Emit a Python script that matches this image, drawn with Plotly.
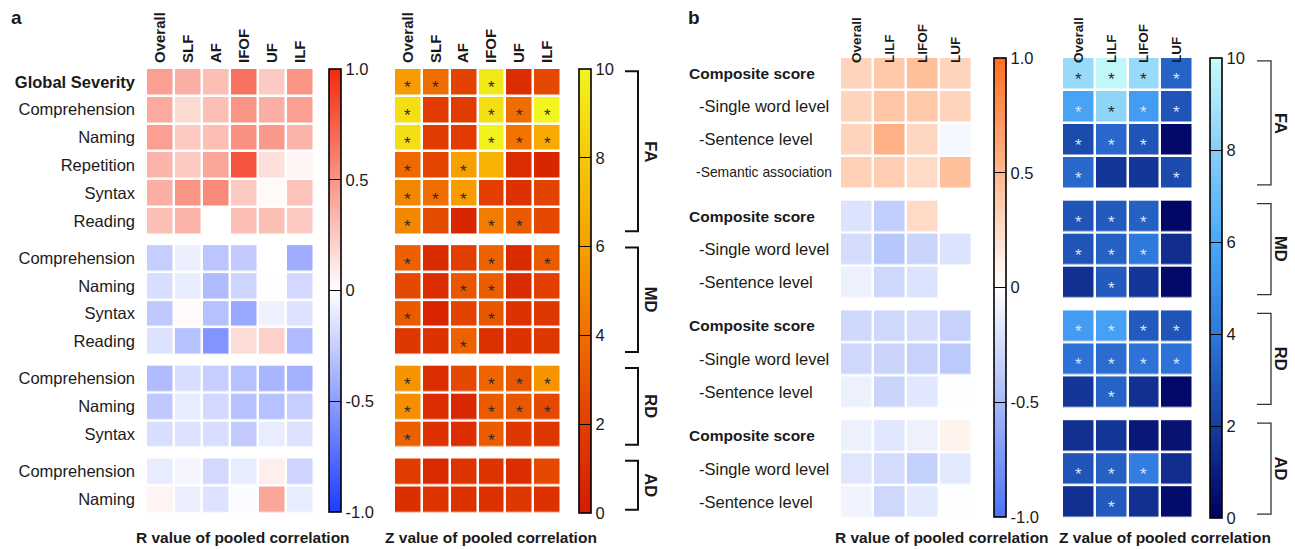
import plotly.graph_objects as go

W, H = 1295, 549
FONT = "Liberation Sans, Arial, Helvetica, sans-serif"
TXT = "#1a1a1a"

# ---------------- Panel a data ----------------
a_cols = ["Overall", "SLF", "AF", "IFOF", "UF", "ILF"]
a_groups = ["FA", "MD", "RD", "AD"]
a_rows = {
    "FA": ["<b>Global Severity</b>", "Comprehension", "Naming", "Repetition", "Syntax", "Reading"],
    "MD": ["Comprehension", "Naming", "Syntax", "Reading"],
    "RD": ["Comprehension", "Naming", "Syntax"],
    "AD": ["Comprehension", "Naming"],
}
a_r = {
    "FA": [[0.45, 0.38, 0.30, 0.66, 0.25, 0.50],
           [0.40, 0.18, 0.30, 0.50, 0.38, 0.45],
           [0.45, 0.25, 0.30, 0.52, 0.48, 0.35],
           [0.35, 0.25, 0.42, 0.80, 0.15, 0.05],
           [0.38, 0.50, 0.55, 0.25, 0.03, 0.28],
           [0.30, 0.35, 0.00, 0.30, 0.30, 0.25]],
    "MD": [[-0.25, -0.08, -0.30, -0.27, 0.00, -0.42],
           [-0.17, -0.10, -0.35, -0.22, 0.01, -0.20],
           [-0.28, 0.02, -0.32, -0.45, -0.07, -0.15],
           [-0.15, -0.32, -0.55, 0.17, 0.22, -0.35]],
    "RD": [[-0.35, -0.17, -0.25, -0.32, -0.38, -0.40],
           [-0.28, -0.10, -0.20, -0.32, -0.32, -0.25],
           [-0.17, -0.15, -0.17, -0.27, -0.10, -0.15]],
    "AD": [[-0.10, -0.05, -0.20, -0.10, 0.08, -0.22],
           [0.05, -0.08, -0.15, -0.02, 0.42, -0.10]],
}
a_z = {
    "FA": [[5.8, 4.0, 2.2, 9.4, 1.0, 2.4],
           [9.0, 1.8, 1.8, 9.0, 4.0, 10.0],
           [9.0, 1.8, 1.8, 9.8, 4.2, 6.5],
           [3.8, 2.3, 6.0, 7.0, 1.0, 0.6],
           [5.0, 4.0, 5.8, 2.0, 1.3, 2.2],
           [5.0, 2.6, 0.6, 4.5, 3.2, 2.4]],
    "MD": [[3.4, 0.8, 2.0, 3.5, 0.8, 3.2],
           [2.4, 1.0, 3.0, 3.3, 0.8, 2.0],
           [3.2, 0.5, 2.2, 3.0, 1.3, 1.6],
           [1.6, 1.3, 3.5, 1.2, 1.3, 1.6]],
    "RD": [[5.5, 1.0, 2.4, 3.6, 3.0, 5.5],
           [5.3, 1.0, 0.7, 3.2, 3.0, 2.4],
           [3.4, 1.3, 1.0, 3.3, 1.6, 1.6]],
    "AD": [[1.8, 0.8, 1.4, 1.4, 1.0, 2.4],
           [1.1, 1.4, 1.3, 1.3, 1.6, 1.3]],
}
a_sig = {
    "FA": [[1, 1, 0, 1, 0, 0],
           [1, 0, 0, 1, 1, 1],
           [1, 0, 0, 1, 1, 1],
           [1, 0, 1, 0, 0, 0],
           [1, 1, 1, 0, 0, 0],
           [1, 0, 0, 1, 1, 0]],
    "MD": [[1, 0, 0, 1, 0, 1],
           [0, 0, 1, 1, 0, 0],
           [1, 0, 0, 1, 0, 0],
           [0, 0, 1, 0, 0, 0]],
    "RD": [[1, 0, 0, 1, 1, 1],
           [1, 0, 0, 1, 1, 1],
           [1, 0, 0, 1, 0, 0]],
    "AD": [[0, 0, 0, 0, 0, 0],
           [0, 0, 0, 0, 0, 0]],
}

# ---------------- Panel b data ----------------
b_cols = ["Overall", "LILF", "LIFOF", "LUF"]
b_groups = ["FA", "MD", "RD", "AD"]
b_rows = {
    "FA": ["Composite score", "-Single word level", "-Sentence level", "-Semantic association"],
    "MD": ["Composite score", "-Single word level", "-Sentence level"],
    "RD": ["Composite score", "-Single word level", "-Sentence level"],
    "AD": ["Composite score", "-Single word level", "-Sentence level"],
}
b_r = {
    "FA": [[0.30, 0.38, 0.45, 0.30],
           [0.30, 0.40, 0.38, 0.30],
           [0.30, 0.55, 0.28, -0.05],
           [0.33, 0.35, 0.25, 0.45]],
    "MD": [[-0.20, -0.35, 0.25, 0.00],
           [-0.25, -0.40, -0.30, -0.20],
           [-0.10, -0.28, -0.20, 0.00]],
    "RD": [[-0.27, -0.28, -0.25, -0.32],
           [-0.28, -0.30, -0.32, -0.38],
           [-0.10, -0.30, -0.17, -0.01]],
    "AD": [[-0.10, -0.18, -0.10, 0.08],
           [-0.18, -0.25, -0.33, -0.15],
           [-0.08, -0.28, -0.15, -0.01]],
}
b_z = {
    "FA": [[8.5, 9.8, 8.5, 3.3],
           [5.8, 8.2, 5.5, 2.8],
           [2.5, 3.5, 2.8, 0.3],
           [3.5, 1.8, 1.8, 2.5]],
    "MD": [[2.8, 3.0, 3.2, 0.2],
           [2.8, 3.2, 4.0, 1.5],
           [1.6, 3.0, 1.8, 0.3]],
    "RD": [[5.5, 5.7, 3.0, 2.8],
           [3.8, 3.6, 3.8, 3.8],
           [1.8, 3.3, 1.6, 0.3]],
    "AD": [[1.6, 1.8, 0.8, 0.6],
           [2.8, 3.2, 4.2, 1.5],
           [1.6, 3.0, 1.6, 0.4]],
}
b_sig = {
    "FA": [[1, 1, 1, 1],
           [1, 1, 1, 1],
           [1, 1, 1, 0],
           [1, 0, 0, 1]],
    "MD": [[1, 1, 1, 0],
           [1, 1, 1, 0],
           [0, 1, 0, 0]],
    "RD": [[1, 1, 1, 1],
           [1, 1, 1, 1],
           [0, 1, 0, 0]],
    "AD": [[0, 0, 0, 0],
           [1, 1, 1, 0],
           [0, 1, 0, 0]],
}

z_ticks = [0, 2, 4, 6, 8, 10]
r_ticks = [-1, -0.5, 0, 0.5, 1]
r_ticktext = ["-1.0", "-0.5", "0", "0.5", "1.0"]


def group_positions(groups, rows, gap):
    pos, cur = {}, 0.0
    for g in groups:
        n = len(rows[g])
        pos[g] = [cur + i for i in range(n)]
        cur += n + gap
    return pos


a_pos = group_positions(a_groups, a_rows, 0.34)
b_pos = group_positions(b_groups, b_rows, 0.33)


def px(x):
    return x / W


def py(y):
    return 1 - y / H


def cbar(x0, y0, y1, tickvals, ticktext):
    return dict(x=px(x0), xanchor="left", xpad=0, y=py(y0), yanchor="top", ypad=0,
                len=(y1 - y0) / H, lenmode="fraction", thickness=12, thicknessmode="pixels",
                outlinewidth=1.6, outlinecolor="black", ticks="inside", ticklen=12,
                tickwidth=1.4, tickcolor="black", tickvals=tickvals, ticktext=ticktext,
                tickfont=dict(family=FONT, size=16.5, color=TXT), bgcolor="rgba(0,0,0,0)",
                borderwidth=0)


fig = go.Figure()

panels = [
    ("x", "y", "coloraxis", a_groups, a_pos, a_r, a_cols),
    ("x2", "y2", "coloraxis2", a_groups, a_pos, a_z, a_cols),
    ("x3", "y3", "coloraxis3", b_groups, b_pos, b_r, b_cols),
    ("x4", "y4", "coloraxis4", b_groups, b_pos, b_z, b_cols),
]
for xa, ya, ca, groups, pos, data, cols in panels:
    for g in groups:
        fig.add_trace(go.Heatmap(
            z=data[g], x=list(range(len(cols))), y=pos[g], xaxis=xa, yaxis=ya,
            coloraxis=ca, xgap=2.5, ygap=2.5, hoverinfo="skip"))

annotations = []
# significance stars
for g in a_groups:
    for i, row in enumerate(a_sig[g]):
        for j, s in enumerate(row):
            if s:
                annotations.append(dict(x=j, y=a_pos[g][i], xref="x2", yref="y2", text="*",
                                        showarrow=False, yshift=-6, xanchor="center",
                                        font=dict(family=FONT, size=17, color="#2a2a2a")))
for g in b_groups:
    for i, row in enumerate(b_sig[g]):
        for j, s in enumerate(row):
            if s:
                col = "#1e2a30" if b_z[g][i][j] >= 7.5 else "#d6e6ff"
                annotations.append(dict(x=j, y=b_pos[g][i], xref="x4", yref="y4", text="*",
                                        showarrow=False, yshift=-6, xanchor="center",
                                        font=dict(family=FONT, size=17, color=col)))

# panel b row labels (left aligned)
for g in b_groups:
    for i, lab in enumerate(b_rows[g]):
        if lab.startswith("Composite"):
            txt, x0, size = "<b>" + lab + "</b>", 687, 15.5
        elif len(lab) > 18:
            txt, x0, size = lab, 694, 13.9
        else:
            txt, x0, size = lab, 697, 16.5
        annotations.append(dict(x=px(x0), y=b_pos[g][i], xref="paper", yref="y3", text=txt,
                                xanchor="left", yanchor="middle", showarrow=False,
                                font=dict(family=FONT, size=size, color=TXT)))

shapes = []
# brackets
for groups, pos, yref, xa0, xa1, xlab, lw, lc in [
    (a_groups, a_pos, "y2", 625, 638, 651, 2.0, "#111"),
    (b_groups, b_pos, "y4", 1257, 1271, 1281, 1.3, "#333"),
]:
    for g in groups:
        top = pos[g][0] - 0.38
        bot = pos[g][-1] + 0.38
        shapes.append(dict(type="path", xref="paper", yref=yref,
                           path=f"M {px(xa0)},{top} L {px(xa1)},{top} L {px(xa1)},{bot} L {px(xa0)},{bot}",
                           line=dict(color=lc, width=lw)))
        annotations.append(dict(x=px(xlab), y=(pos[g][0] + pos[g][-1]) / 2, xref="paper", yref=yref,
                                text=f"<b>{g}</b>", textangle=90, showarrow=False,
                                xanchor="center", yanchor="middle",
                                font=dict(family=FONT, size=16.5, color=TXT)))

# axis titles and panel letters
for xc, txt in [(243, "R value of pooled correlation"), (491, "Z value of pooled correlation"),
                (942, "R value of pooled correlation"), (1165, "Z value of pooled correlation")]:
    annotations.append(dict(x=px(xc), y=py(537), xref="paper", yref="paper", text=f"<b>{txt}</b>",
                            showarrow=False, xanchor="center", yanchor="middle",
                            font=dict(family=FONT, size=15.5, color=TXT)))
for xc, txt in [(16, "a"), (694, "b")]:
    annotations.append(dict(x=px(xc), y=py(17), xref="paper", yref="paper", text=f"<b>{txt}</b>",
                            showarrow=False, xanchor="center", yanchor="middle",
                            font=dict(family=FONT, size=19, color=TXT)))


def xaxis(x0, x1, cols, size):
    return dict(domain=[px(x0), px(x1)], range=[-0.5, len(cols) - 0.5], side="top",
                tickvals=list(range(len(cols))), ticktext=[f"<b>{c}</b>" for c in cols],
                tickangle=-90, tickfont=dict(family=FONT, size=size, color=TXT),
                showgrid=False, zeroline=False, showline=False, ticks="", ticklabelstandoff=4)


a_all_pos = [p for g in a_groups for p in a_pos[g]]
a_all_lab = [l for g in a_groups for l in a_rows[g]]
b_max = b_pos[b_groups[-1]][-1]
a_max = a_pos[a_groups[-1]][-1]


def yaxis(y0, y1, rmax, **kw):
    d = dict(domain=[py(y1), py(y0)], range=[rmax + 0.5, -0.5], showgrid=False, zeroline=False,
             showline=False, ticks="", showticklabels=False)
    d.update(kw)
    return d


fig.update_layout(
    width=W, height=H, margin=dict(l=0, r=0, t=0, b=0, autoexpand=False),
    paper_bgcolor="white", plot_bgcolor="white", showlegend=False,
    font=dict(family=FONT, color=TXT),
    xaxis=xaxis(146, 314, a_cols, 15),
    xaxis2=xaxis(394, 561, a_cols, 15),
    xaxis3=xaxis(840, 972, b_cols, 13.5),
    xaxis4=xaxis(1062, 1193, b_cols, 13.5),
    yaxis=yaxis(68, 513, a_max, anchor="x", showticklabels=True, tickvals=a_all_pos,
                ticktext=a_all_lab, ticklabelstandoff=10,
                tickfont=dict(family=FONT, size=16.5, color=TXT)),
    yaxis2=yaxis(68, 513, a_max, anchor="x2"),
    yaxis3=yaxis(57, 518, b_max, anchor="x3"),
    yaxis4=yaxis(57, 518, b_max, anchor="x4"),
    coloraxis=dict(cmin=-1, cmax=1,
                   colorscale=[[0, "#1c3cff"], [0.5, "#ffffff"], [1, "#f42a0c"]],
                   colorbar=cbar(329, 69, 512, r_ticks, r_ticktext)),
    coloraxis2=dict(cmin=0, cmax=10,
                    colorscale=[[0, "#d41c00"], [0.2, "#e23e00"], [0.4, "#f06e00"],
                                [0.6, "#f8a000"], [0.8, "#f6c80a"], [1, "#f2f51e"]],
                    colorbar=cbar(579, 69, 513, z_ticks, [str(t) for t in z_ticks])),
    coloraxis3=dict(cmin=-1, cmax=1,
                    colorscale=[[0, "#4d73f5"], [0.5, "#ffffff"], [1, "#ff7020"]],
                    colorbar=cbar(994, 58, 517, r_ticks, r_ticktext)),
    coloraxis4=dict(cmin=0, cmax=10,
                    colorscale=[[0, "#00005e"], [0.2, "#163c9e"], [0.4, "#2f78dc"],
                                [0.6, "#4aa8f8"], [0.8, "#88cef8"], [1, "#c8fcfa"]],
                    colorbar=cbar(1210, 58, 518, z_ticks, [str(t) for t in z_ticks])),
    annotations=annotations,
    shapes=shapes,
)

fig.write_html("out.html")
